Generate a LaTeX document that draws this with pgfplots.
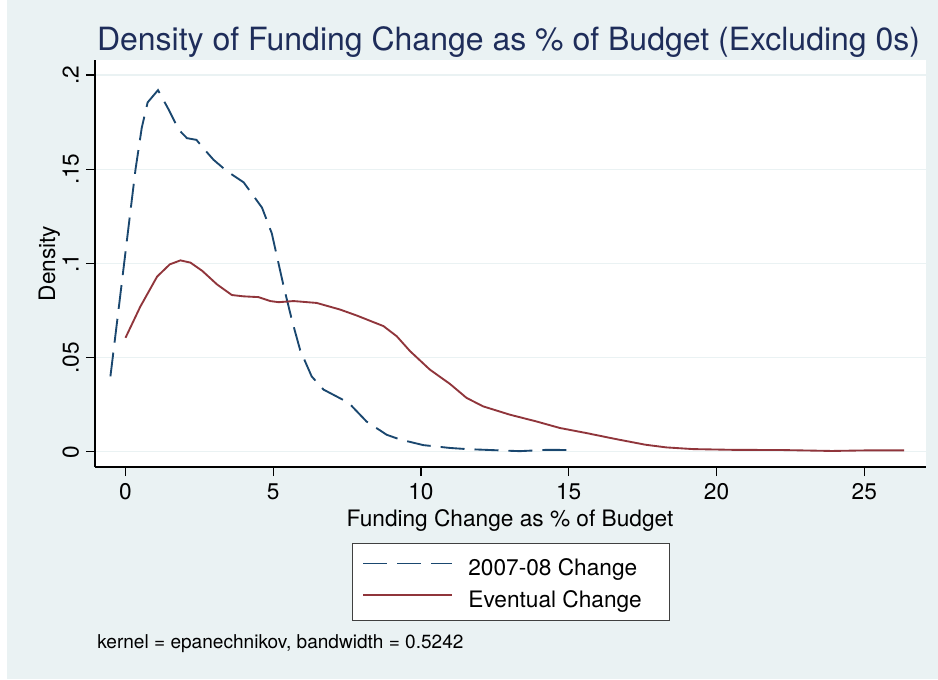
\documentclass[border=0pt]{standalone}
\usepackage{pgfplots}
\pgfplotsset{compat=1.18}
\usepackage{fontspec}
\setmainfont{TeX Gyre Heros}
\definecolor{bgcol}{RGB}{234,242,243}
\definecolor{snavy}{RGB}{26,71,111}
\definecolor{smaroon}{RGB}{144,53,59}
\definecolor{titlecol}{RGB}{30,45,90}
\begin{document}
\begin{tikzpicture}
\useasboundingbox (0,0) rectangle (703.5pt,-509.25pt);
\fill[bgcol] (0,0) rectangle (703.5pt,-509.25pt);
\fill[white] (0,0) rectangle (5.25pt,-509.25pt);
\begin{axis}[
  at={(71.25pt,-350.25pt)}, anchor=south west,
  scale only axis, width=623.25pt, height=305.25pt,
  xmin=-1.032, xmax=27.09, ymin=-0.00812, ymax=0.208,
  axis x line*=bottom, axis y line*=left,
  axis line style={-, draw=black, line width=1.1pt},
  axis background/.style={fill=white},
  xtick={0,5,10,15,20,25}, xticklabels={0,5,10,15,20,25},
  ytick={0,0.05,0.1,0.15,0.2}, yticklabels={0,.05,.1,.15,.2},
  tick align=outside, major tick length=6.75pt,
  tick style={draw=black, line width=0.9pt},
  ymajorgrids, grid style={bgcol, line width=1.1pt},
  tick label style={font=\fontsize{17}{20}\selectfont},
  xticklabel style={anchor=base, inner sep=0pt, yshift=-17.6pt},
  yticklabel style={xshift=-5.5pt, rotate=90, anchor=base, inner sep=0pt},
  xlabel={Funding Change as \% of Budget},
  ylabel={Density},
  label style={font=\fontsize{17}{20}\selectfont},
  xlabel style={at={(axis description cs:0.4994,-0.145)}, anchor=base, inner sep=0pt},
  ylabel style={at={(axis description cs:-0.0481,0.5)}, anchor=base, inner sep=0pt},
  legend style={
    at={(axis description cs:0.3093,-0.1867)}, anchor=north west,
    draw=black!75, line width=0.75pt, fill=white,
    font=\fontsize{17}{20}\selectfont,
    inner xsep=7.5pt, inner ysep=5pt,
    row sep=0pt, column sep=11.25pt,
    nodes={inner sep=0pt, text height=19.2pt, text depth=4.75pt},
  },
  legend cell align=left,
  legend image code/.code={\draw[#1] (0pt,2pt) -- (66.75pt,2pt);},
]
\addplot[snavy, line width=1.4pt, dash pattern=on 18pt off 7.5pt] coordinates {
(-0.51,0.040) (-0.2,0.080) (0.1,0.119) (0.34,0.150) (0.55,0.172) (0.75,0.1855)
(1.10,0.192) (1.45,0.182) (1.8,0.171) (2.08,0.1665) (2.4,0.1656) (2.7,0.160)
(2.98,0.155) (3.43,0.149) (4.0,0.143) (4.62,0.1296) (4.95,0.116) (5.15,0.102)
(5.35,0.088) (5.63,0.070) (5.91,0.054) (6.3,0.040) (6.7,0.033) (7.55,0.026)
(8.16,0.016) (8.84,0.009) (9.29,0.0065) (10.08,0.0035) (10.98,0.002) (11.54,0.0014)
(12.67,0.0007) (13.34,0.0003) (14.25,0.001) (15.15,0.0009)
};
\addlegendentry{\makebox[143.25pt][l]{2007-08 Change}}
\addplot[smaroon, line width=1.4pt] coordinates {
(0,0.0605) (0.5,0.077) (1.07,0.093) (1.5,0.0995) (1.86,0.1016) (2.2,0.1004)
(2.6,0.096) (3.1,0.0888) (3.6,0.0832) (4.0,0.0825) (4.5,0.0821) (4.9,0.080)
(5.18,0.0794) (5.69,0.080) (6.47,0.079) (7.26,0.0755) (7.83,0.0723) (8.73,0.0667)
(9.18,0.0613) (9.63,0.0534) (10.3,0.0436) (10.98,0.036) (11.54,0.0286) (12.1,0.0241)
(13.0,0.0197) (13.9,0.0161) (14.7,0.0126) (15.6,0.0099) (16.6,0.0067) (17.6,0.0037)
(18.3,0.0023) (19.2,0.0014) (20.55,0.001) (22.2,0.0009) (23.9,0.0004) (25.05,0.0007)
(26.35,0.0007)
};
\addlegendentry{\makebox[143.25pt][l]{Eventual Change}}
\end{axis}
\node[anchor=base, inner sep=0pt, font=\fontsize{24}{28}\selectfont, text=titlecol] at (381.4pt,-37.5pt) {Density of Funding Change as \% of Budget (Excluding 0s)};
\node[anchor=base west, inner sep=0pt, font=\fontsize{14.3}{17}\selectfont] at (72.75pt,-486.2pt) {kernel = epanechnikov, bandwidth = 0.5242};
\end{tikzpicture}
\end{document}
